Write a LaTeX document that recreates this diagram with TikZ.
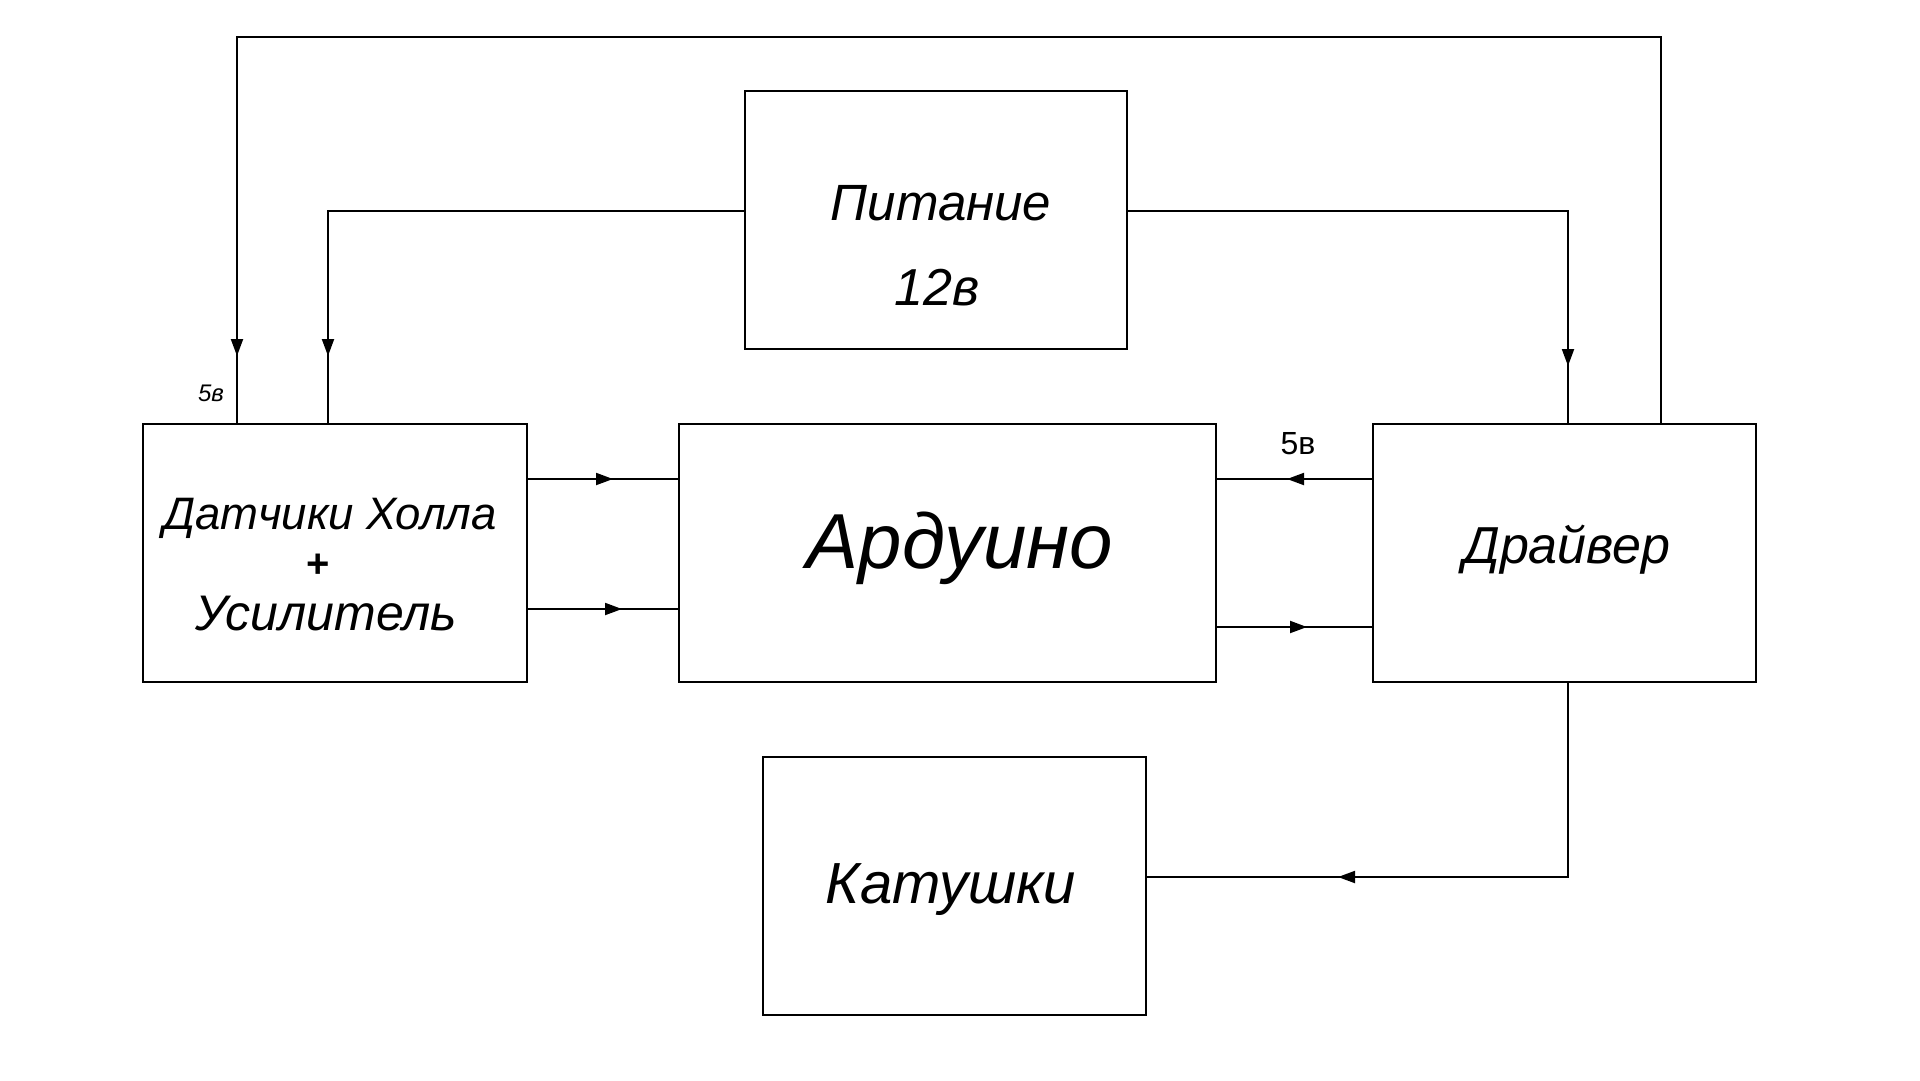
\documentclass[tikz,border=0pt]{standalone}
\usepackage{fontspec}
\setmainfont{Liberation Sans}
\usetikzlibrary{arrows.meta,decorations.markings}
\tikzset{
  blk/.style={draw, line width=2pt, inner sep=0pt, minimum height=258pt},
  wire/.style={line width=2pt},
  tipat/.style={postaction={decorate,decoration={markings,
      mark=at position #1 with {\arrow{Triangle[length=17pt,width=12pt]}}}}},
  lbl/.style={inner sep=0pt, anchor=base, font=\itshape\fontsize{#1}{#1}\selectfont},
}
\begin{document}
\begin{tikzpicture}[x=1pt,y=-1pt]
\useasboundingbox (0,0) rectangle (1920,1080);
% boxes
\node[blk, minimum width=382pt] (pit) at (935.5,220) {};
\node[blk, minimum width=384pt] (hall) at (335,553) {};
\node[blk, minimum width=537pt] (ard) at (947.5,553) {};
\node[blk, minimum width=383pt] (drv) at (1564.5,553) {};
\node[blk, minimum width=383pt] (kat) at (954.5,886) {};
% texts
\node[lbl=51] (t1) at (941,220) {Питание};
\node[lbl=52] (t2) at (937,305) {12в};
\node[lbl=45.5] (t3) at (330,529) {Датчики Холла};
\node[inner sep=0pt, font=\bfseries\fontsize{40}{48}\selectfont] (t4) at (318,566) {+};
\node[lbl=50] (t5) at (326,630) {Усилитель};
\node[lbl=78] (t6) at (960,568) {Ардуино};
\node[lbl=52] (t7) at (1567,563) {Драйвер};
\node[lbl=58] (t8) at (951,903) {Катушки};
\node[inner sep=0pt, anchor=base, font=\fontsize{32}{38}\selectfont] (t9) at (1298,454) {5в};
\node[inner sep=0pt, anchor=base, font=\itshape\fontsize{24}{30}\selectfont] (t10) at (211,401) {5в};
% helper coordinates
\coordinate (c1) at (1661,37);
\coordinate (c2) at (237,37);
\coordinate (c3) at (328,210.6);
\coordinate (c4) at (1568,210.6);
\coordinate (c5) at (1568,877);
% connectors
\draw[wire, tipat=-67pt] (drv.north -| c1) -- (c1) -- (c2) -- (hall.north -| c2);
\draw[wire, tipat=-67pt] (pit.west |- c3) -- (c3) -- (hall.north -| c3);
\draw[wire, tipat=-57pt] (pit.east |- c4) -- (c4) -- (drv.north -| c4);
\draw[wire, tipat=-65pt] (hall.east |- 0,479) -- (ard.west |- 0,479);
\draw[wire, tipat=-56pt] (hall.east |- 0,609) -- (ard.west |- 0,609);
\draw[wire, tipat=-70pt] (drv.west |- 0,479) -- (ard.east |- 0,479);
\draw[wire, tipat=-65pt] (ard.east |- 0,627) -- (drv.west |- 0,627);
\draw[wire, tipat=-191pt] (drv.south -| c5) -- (c5) -- (kat.east |- c5);
\end{tikzpicture}
\end{document}
